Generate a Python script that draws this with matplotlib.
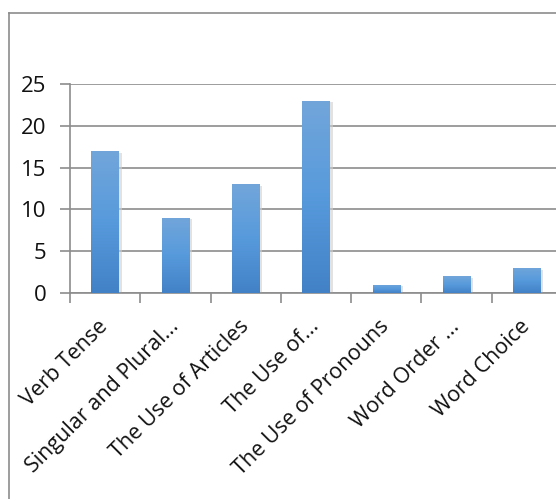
import matplotlib
matplotlib.use("Agg")
import matplotlib.pyplot as plt
import numpy as np
from matplotlib.colors import LinearSegmentedColormap
from matplotlib.lines import Line2D

categories = ["Verb Tense", "Singular and Plural...", "The Use of Articles", "The Use of...",
              "The Use of Pronouns", "Word Order ...", "Word Choice"]
counts = [17, 9, 13, 23, 1, 2, 3]
y_ticks = [0, 5, 10, 15, 20, 25]

plt.rcParams['font.family'] = ['Open Sans', 'DejaVu Sans']

fig = plt.figure(figsize=(5.56, 4.99), dpi=100)
W, H = 556, 499
# axes reaches past the right edge like the cropped original
ax = fig.add_axes([70 / W, 1 - 293 / H, 492 / W, 209 / H])

x = np.arange(len(categories))
bars = ax.bar(x, counts, width=0.39, color='none', zorder=3)

grad = LinearSegmentedColormap.from_list("xl", ["#4281c6", "#579adc", "#72a6da"])
img = np.linspace(0, 1, 256).reshape(-1, 1)
for b in bars:
    x0, y0 = b.get_x(), b.get_y()
    w, h = b.get_width(), b.get_height()
    # soft shadow
    ax.bar(x0 + w / 2 + 0.02, h, width=w + 0.04, bottom=-0.2, color='#d0d0d0',
           alpha=0.6, zorder=2, linewidth=0)
    im = ax.imshow(img, cmap=grad, origin='lower', aspect='auto',
                   extent=[x0, x0 + w, y0, y0 + h], zorder=3)
    im.set_clip_path(b)

ax.set_xlim(-0.5, len(categories) - 0.5)
ax.set_ylim(0, 25)
ax.set_yticks(y_ticks)
ax.yaxis.grid(True, color='#8c8c8c', linewidth=1.2, zorder=0)
ax.set_axisbelow(True)

for s in ['top', 'right']:
    ax.spines[s].set_visible(False)
for s in ['left', 'bottom']:
    ax.spines[s].set_color('#8c8c8c')
    ax.spines[s].set_linewidth(1.2)

ax.tick_params(axis='y', direction='out', length=7, width=1.2, color='#8c8c8c',
               labelsize=16, pad=10, labelcolor='#111111')
ax.set_xticks(x)
ax.set_xticks(np.arange(len(categories) + 1) - 0.5, minor=True)
ax.tick_params(axis='x', which='major', length=0, pad=22)
ax.tick_params(axis='x', which='minor', direction='out', length=7, width=1.2, color='#8c8c8c')
ax.set_xticklabels(categories, rotation=45, ha='right', va='center',
                   rotation_mode='anchor', fontsize=15.5, color='#111111')

# outer chart border
fig.add_artist(Line2D([8.5 / W, 8.5 / W], [0, 1 - 12.5 / H], transform=fig.transFigure,
                      color='#8c8c8c', linewidth=1.2))
fig.add_artist(Line2D([8.5 / W, 1], [1 - 12.5 / H, 1 - 12.5 / H], transform=fig.transFigure,
                      color='#8c8c8c', linewidth=1.2))

fig.savefig("out.png", dpi=100)
